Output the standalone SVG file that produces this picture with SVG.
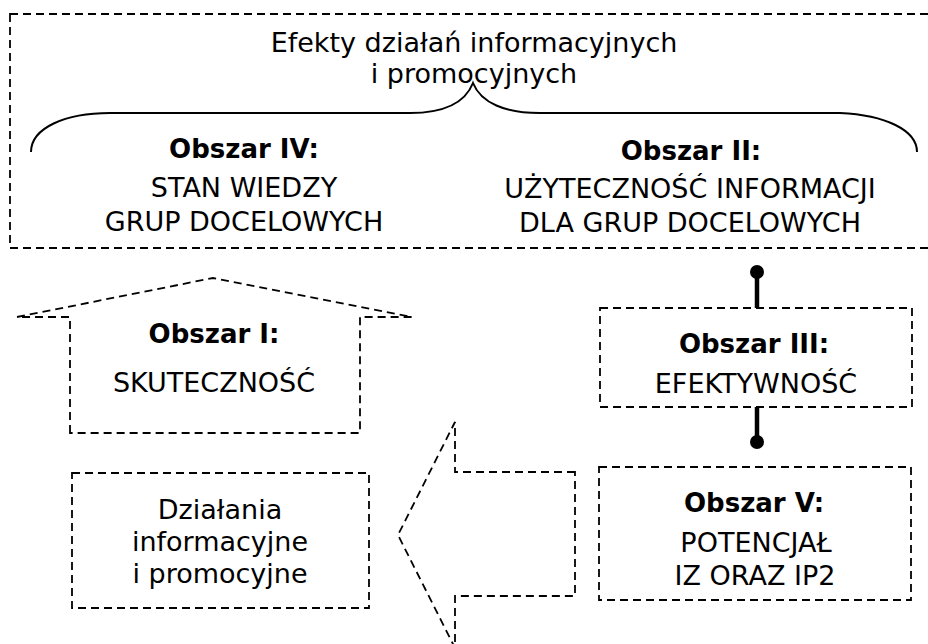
<svg xmlns="http://www.w3.org/2000/svg" width="928" height="644" viewBox="0 0 928 644">
<style>
.d{fill:none;stroke:#000;stroke-width:1.8;stroke-dasharray:8 5}
.t{font-family:"DejaVu Sans","Noto Sans",sans-serif;font-size:27px;fill:#000;text-anchor:middle}
.b{font-weight:bold;font-size:26px}
.br{fill:none;stroke:#000;stroke-width:2}
.c{stroke:#000;stroke-width:4.5}
</style>
<rect width="928" height="644" fill="#fff"/>
<g id="effects">
<rect class="d" x="10" y="14" width="940" height="234"/>
<text class="t" x="474" y="52">Efekty działań informacyjnych</text>
<text class="t" x="474" y="83">i promocyjnych</text>
<path class="br" d="M31,152 C31,128 65,113 110,113 L410,113 C445,113 465,103 473,83 C481,103 505,113 540,113 L840,113 C885,115 917,130 917,152"/>
</g>
<g id="obszar4">
<text class="t b" x="244" y="158">Obszar IV:</text>
<text class="t" x="244" y="197">STAN WIEDZY</text>
<text class="t" x="244" y="231">GRUP DOCELOWYCH</text>
</g>
<g id="obszar2">
<text class="t b" x="691" y="160">Obszar II:</text>
<text class="t" x="690" y="198">UŻYTECZNOŚĆ INFORMACJI</text>
<text class="t" x="690" y="232">DLA GRUP DOCELOWYCH</text>
</g>
<g id="obszar1">
<polygon class="d" points="70,433 70,317 17,317 213,278 412,317 360,317 360,433"/>
<text class="t b" x="214" y="343">Obszar I:</text>
<text class="t" x="214" y="392">SKUTECZNOŚĆ</text>
</g>
<g id="obszar3">
<rect class="d" x="600" y="308" width="312" height="99"/>
<text class="t b" x="754" y="353">Obszar III:</text>
<text class="t" x="756" y="393">EFEKTYWNOŚĆ</text>
</g>
<g id="obszar5">
<rect class="d" x="599" y="467" width="312" height="133"/>
<text class="t b" x="754" y="512">Obszar V:</text>
<text class="t" x="756" y="552">POTENCJAŁ</text>
<text class="t" x="755" y="585">IZ ORAZ IP2</text>
</g>
<g id="dzialania">
<rect class="d" x="72" y="473" width="297" height="135"/>
<text class="t" x="220" y="519">Działania</text>
<text class="t" x="220" y="551">informacyjne</text>
<text class="t" x="220" y="583">i promocyjne</text>
</g>
<g id="arrow-left">
<polygon class="d" points="575,472 455,472 455,422 398,535 455,648 455,596 575,596"/>
</g>
<g id="connectors">
<line class="c" x1="757" y1="272" x2="757" y2="308"/>
<circle cx="757" cy="272" r="7"/>
<line class="c" x1="757" y1="407" x2="757" y2="442"/>
<circle cx="757" cy="442" r="7"/>
</g>
</svg>
